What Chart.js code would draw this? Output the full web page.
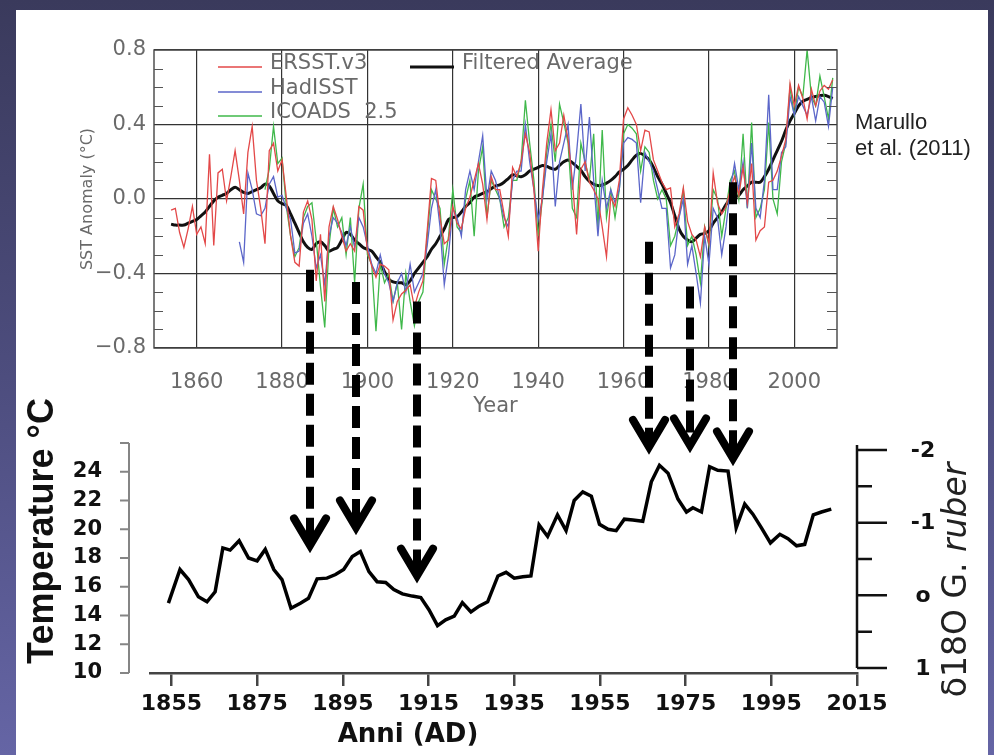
<!DOCTYPE html>
<html><head><meta charset="utf-8">
<script src="https://cdn.jsdelivr.net/npm/chart.js@4.4.1/dist/chart.umd.min.js"></script>
<style>
html,body{margin:0;padding:0;}
body{width:994px;height:755px;overflow:hidden;position:relative;background:linear-gradient(to bottom,#3a3a5c 0%,#4d4d7e 50%,#6565a5 100%);}
#panel{position:absolute;left:16px;top:10px;width:972px;height:745px;background:#fff;}
#top{position:absolute;left:0;top:0;}
#bot{position:absolute;left:0;top:380px;}
#ov{position:absolute;left:0;top:0;pointer-events:none;}
</style></head>
<body>
<div id="panel"></div>
<canvas id="top" width="994" height="420" style="width:994px;height:420px"></canvas>
<canvas id="bot" width="994" height="375" style="width:994px;height:375px"></canvas>
<canvas id="ov" width="994" height="755" style="width:994px;height:755px"></canvas>
<script>
// ---------- top panel: SST anomaly (°C), annual ----------
const ersstStart = 1854;
const ersst = [
 -0.06,-0.05,-0.18,-0.26,-0.16,-0.04,
 -0.19,-0.15,-0.24,0.24,-0.25,0.14,0.16,-0.01,0.12,0.26,
 0.10,-0.08,0.25,0.39,0.10,-0.05,-0.24,0.26,0.30,0.15,
 0.21,0.01,-0.20,-0.34,-0.36,-0.07,-0.01,-0.11,-0.44,-0.19,
 -0.55,-0.15,-0.04,-0.11,-0.20,-0.28,-0.24,-0.28,-0.04,-0.06,
 -0.28,-0.36,-0.42,-0.35,-0.36,-0.38,-0.65,-0.55,-0.51,-0.49,
 -0.46,-0.58,-0.50,-0.44,-0.17,0.11,0.10,-0.10,-0.24,-0.22,
 -0.04,-0.13,-0.16,-0.05,0.01,0.10,0.19,0.08,-0.11,0.12,
 0.05,0.05,-0.08,-0.20,0.17,0.12,0.20,0.35,0.25,0.05,
 -0.28,0.05,0.30,0.48,0.26,0.30,0.45,0.32,0.10,-0.19,
 0.16,0.20,0.09,0.05,0.00,-0.15,-0.31,0.01,-0.04,0.10,
 0.43,0.49,0.45,0.40,0.26,0.37,0.36,0.21,0.15,0.09,
 0.05,0.06,-0.15,-0.08,0.06,-0.12,-0.19,-0.22,-0.31,-0.15,
 -0.24,0.14,-0.02,-0.08,-0.04,0.05,0.12,0.02,0.17,-0.02,
 0.19,-0.22,-0.17,-0.15,0.09,0.10,0.15,0.23,0.32,0.62,
 0.50,0.61,0.54,0.43,0.59,0.50,0.58,0.61,0.59,0.64
];
const hadStart = 1870;
const hadisst = [
 -0.23,-0.34,0.14,0.05,-0.08,-0.09,-0.05,0.08,0.12,0.01,
 0.02,-0.05,-0.11,-0.29,-0.28,-0.13,-0.08,-0.20,-0.37,-0.30,
 -0.46,-0.20,-0.10,-0.13,-0.18,-0.25,-0.15,-0.26,-0.10,-0.15,
 -0.25,-0.35,-0.40,-0.30,-0.40,-0.45,-0.55,-0.45,-0.40,-0.50,
 -0.35,-0.50,-0.45,-0.40,-0.25,-0.05,0.05,-0.15,-0.46,-0.30,
 -0.05,-0.10,-0.20,0.05,0.15,0.05,0.20,0.34,0.00,0.15,
 0.10,0.00,-0.10,-0.15,0.10,0.15,0.15,0.40,0.20,0.05,
 -0.11,0.00,0.20,0.35,-0.04,0.20,0.30,0.40,0.05,0.25,
 0.51,0.15,0.44,0.10,-0.20,0.10,-0.05,0.05,-0.02,0.05,
 0.30,0.33,0.32,0.30,-0.02,0.25,0.20,0.15,0.05,-0.05,
 -0.05,-0.37,-0.30,-0.10,0.00,-0.35,-0.25,-0.40,-0.56,-0.20,
 -0.35,-0.05,-0.10,-0.30,-0.15,0.05,0.19,0.05,0.20,-0.05,
 0.30,-0.05,-0.10,0.10,0.56,0.05,0.05,0.25,0.28,0.55,
 0.45,0.55,0.50,0.45,0.55,0.42,0.55,0.52,0.39,0.60
];
const icoadsStart = 1876;
const icoads = [
 0.05,0.16,0.39,0.19,
 0.22,-0.04,-0.20,-0.31,-0.26,-0.10,-0.04,-0.02,-0.22,-0.47,
 -0.69,-0.25,-0.05,-0.15,-0.10,-0.30,-0.10,-0.45,-0.05,0.08,
 -0.30,-0.35,-0.71,-0.35,-0.45,-0.40,-0.55,-0.45,-0.70,-0.40,
 -0.55,-0.68,-0.55,-0.50,-0.20,0.05,0.00,-0.05,-0.35,-0.20,
 0.05,-0.15,-0.18,0.00,0.10,-0.20,0.15,0.28,-0.10,0.10,
 0.05,0.00,-0.15,-0.10,0.10,0.10,0.20,0.53,0.30,0.10,
 -0.20,0.00,0.25,0.40,0.20,0.51,0.41,0.30,-0.05,-0.10,
 0.30,0.20,0.10,0.35,-0.15,0.37,-0.10,0.05,-0.10,0.05,
 0.35,0.40,0.38,0.35,0.15,0.28,0.25,0.10,0.00,0.05,
 0.00,-0.25,-0.20,-0.10,0.05,-0.25,-0.20,-0.30,-0.45,-0.15,
 -0.25,0.05,0.00,-0.20,-0.05,0.10,0.15,0.00,0.35,-0.05,
 0.41,-0.10,-0.05,0.05,0.41,0.00,-0.08,0.20,0.30,0.60,
 0.45,0.60,0.55,0.80,0.55,0.50,0.66,0.55,0.43,0.65
];
const filtStart = 1854;
const filtered = [
 -0.135,-0.14,-0.14,-0.14,-0.13,-0.12,
 -0.11,-0.09,-0.07,-0.04,-0.01,0.01,0.02,0.03,0.05,0.063,
 0.05,0.035,0.03,0.04,0.05,0.06,0.08,0.07,0.03,-0.01,
 -0.025,-0.035,-0.08,-0.13,-0.18,-0.23,-0.26,-0.27,-0.24,-0.23,
 -0.25,-0.28,-0.27,-0.26,-0.22,-0.18,-0.19,-0.22,-0.24,-0.26,
 -0.27,-0.28,-0.31,-0.34,-0.39,-0.43,-0.445,-0.45,-0.45,-0.46,
 -0.44,-0.40,-0.37,-0.34,-0.31,-0.27,-0.24,-0.20,-0.16,-0.11,
 -0.10,-0.095,-0.07,-0.04,-0.02,0.01,0.02,0.03,0.04,0.055,
 0.07,0.076,0.09,0.11,0.13,0.125,0.12,0.13,0.15,0.16,
 0.17,0.18,0.175,0.165,0.16,0.18,0.20,0.21,0.195,0.175,
 0.155,0.12,0.095,0.08,0.072,0.075,0.085,0.10,0.12,0.145,
 0.16,0.18,0.21,0.235,0.245,0.23,0.21,0.17,0.12,0.08,
 0.03,-0.02,-0.09,-0.16,-0.20,-0.22,-0.23,-0.21,-0.19,-0.185,
 -0.17,-0.13,-0.10,-0.07,-0.03,0.00,0.01,0.02,0.05,0.07,
 0.09,0.09,0.09,0.12,0.16,0.21,0.26,0.31,0.37,0.42,
 0.46,0.50,0.525,0.535,0.545,0.55,0.555,0.557,0.55,0.54
];
const seriesNames = ['ERSST.v3','HadISST','ICOADS  2.5','Filtered Average'];
const topXTicks = [1860,1880,1900,1920,1940,1960,1980,2000];
const topYTicks = [-0.8,-0.4,0,0.4,0.8];
const topYLabels = ['\u22120.8','\u22120.4','0.0','0.4','0.8'];
const topMinorTicks = [-0.7,-0.6,-0.5,-0.3,-0.2,-0.1,0.1,0.2,0.3,0.5,0.6,0.7];

// ---------- bottom panel: reconstructed temperature ----------
const tempYears = [1854.3,1857,1859,1861.3,1863.3,1865.2,1867,1868.7,1870.8,1873,1875,1876.9,1878.9,1880.8,1882.9,1885.1,1887,1889,1891.3,1893.3,1895.2,1897.2,1899.1,1901.1,1903,1905,1906.9,1908.9,1911.2,1913.2,1915.1,1917.1,1919,1921,1922.9,1924.9,1926.8,1928.8,1931.2,1933.1,1935,1937,1938.9,1940.8,1942.8,1945.1,1947.1,1949,1951,1953,1954.9,1956.9,1958.8,1960.7,1962.7,1965,1967,1968.9,1970.9,1973.2,1975.2,1976.7,1978.7,1980.6,1982.5,1984.9,1986.8,1988.8,1990.7,1992.7,1994.8,1997,1998.9,2000.9,2002.8,2004.8,2006.7,2009];
const tempValues = [14.86,17.2,16.5,15.3,14.95,15.65,18.7,18.55,19.2,18.0,17.8,18.6,17.2,16.5,14.5,14.85,15.2,16.55,16.6,16.85,17.2,18.1,18.45,17.05,16.35,16.3,15.8,15.5,15.35,15.25,14.4,13.3,13.7,13.95,14.9,14.25,14.65,14.95,16.75,17.0,16.6,16.7,16.75,20.3,19.5,21.0,19.9,22.0,22.6,22.3,20.35,20.0,19.9,20.7,20.65,20.55,23.3,24.45,23.9,22.1,21.2,21.5,21.2,24.35,24.1,24.05,20.1,21.75,21.05,20.1,19.05,19.65,19.35,18.85,18.95,21.0,21.2,21.4];
const botXTicks = [1855,1875,1895,1915,1935,1955,1975,1995,2015];
const botYTicks = [10,12,14,16,18,20,22,24,26];
const d18oMajor = [-2,-1,0,1];
const d18oLabels = ['-2','-1','o','1'];
const d18oMinor = [-1.5,-0.5,0.5];

// ---------- arrows linking the two panels ----------
const arrowYears = [1886.5,1897.3,1911.5,1965.9,1975.6,1985.7];
const arrowFromSST = [-0.38,-0.445,-0.55,-0.23,-0.47,0.09];
const arrowToTemp = [18.25,19.5,16.15,25.1,25.2,24.3];

const pts = (start, arr) => arr.map((v,i)=>({x:start+i, y:v}));

Chart.defaults.font.family = '"DejaVu Sans", sans-serif';
const GRAY = '#6a6a6a';
const topFont = {family:'"DejaVu Sans"', size:21, weight:'normal'};

const topDeco = {
  id:'topDeco',
  afterDatasetsDraw(chart){
    const {ctx, chartArea:a, scales:{y}} = chart;
    ctx.save();
    ctx.strokeStyle = '#444'; ctx.lineWidth = 1.4;
    ctx.strokeRect(a.left, a.top, a.right-a.left, a.bottom-a.top);
    ctx.strokeStyle = '#555'; ctx.lineWidth = 1.2;
    topMinorTicks.forEach(v=>{
      const p = Math.round(y.getPixelForValue(v))+0.5;
      ctx.beginPath();
      ctx.moveTo(a.left,p); ctx.lineTo(a.left+9,p);
      ctx.moveTo(a.right,p); ctx.lineTo(a.right-10,p);
      ctx.stroke();
    });
    ctx.restore();
  },
  afterDraw(chart){
    const {ctx} = chart;
    const ds = chart.data.datasets;
    ctx.save();
    const rows = [[0,218,64],[1,218,89],[2,218,113],[3,410,64]];
    ctx.font = '21px "DejaVu Sans"';
    ctx.textBaseline = 'middle'; ctx.textAlign = 'left';
    rows.forEach(([i,x,yy])=>{
      ctx.strokeStyle = ds[i].borderColor;
      ctx.lineWidth = i===3 ? 3 : 1.5;
      ctx.beginPath(); ctx.moveTo(x,yy+3); ctx.lineTo(x+44,yy+3); ctx.stroke();
      ctx.fillStyle = GRAY;
      ctx.fillText(ds[i].label, x+52, yy);
    });
    ctx.fillStyle = '#222';
    ctx.font = '22px "Liberation Sans"';
    ctx.fillText('Marullo', 855, 123);
    ctx.fillText('et al. (2011)', 855, 149);
    ctx.restore();
  }
};

const topChart = new Chart(document.getElementById('top'), {
  type:'line',
  data:{datasets:[
    {label:seriesNames[0], data:pts(ersstStart, ersst), borderColor:'#e34848', borderWidth:1.3, pointRadius:0, tension:0},
    {label:seriesNames[1], data:pts(hadStart, hadisst), borderColor:'#5b66c9', borderWidth:1.3, pointRadius:0, tension:0},
    {label:seriesNames[2], data:pts(icoadsStart, icoads), borderColor:'#3fb84a', borderWidth:1.3, pointRadius:0, tension:0},
    {label:seriesNames[3], data:pts(filtStart, filtered), borderColor:'#111', borderWidth:3, pointRadius:0, tension:0.3}
  ]},
  options:{
    responsive:false, animation:false, devicePixelRatio:1,
    layout:{padding:{top:50,left:0,right:157,bottom:0}},
    plugins:{legend:{display:false}, tooltip:{enabled:false}},
    scales:{
      x:{type:'linear', min:1850, max:2010,
        afterBuildTicks:s=>{s.ticks = topXTicks.map(v=>({value:v}));},
        grid:{color:'#333', lineWidth:1.2, drawTicks:false},
        border:{display:false},
        ticks:{color:GRAY, font:topFont, padding:22, maxRotation:0, autoSkip:false, callback:v=>String(v)},
        title:{display:true, text:'Year', color:GRAY, font:topFont, padding:{top:0,bottom:1}},
        afterFit:s=>{s.height = 72;}
      },
      y:{type:'linear', min:-0.8, max:0.8,
        afterBuildTicks:s=>{s.ticks = topYTicks.map(v=>({value:v}));},
        grid:{color:'#333', lineWidth:1.2, drawTicks:false},
        border:{display:false},
        ticks:{color:GRAY, font:topFont, padding:8, callback:(v,i)=>topYLabels[i]},
        title:{display:true, text:'SST Anomaly (\u00B0C)', color:GRAY, font:{family:'"DejaVu Sans"', size:16}, padding:{top:78,bottom:0}},
        afterFit:s=>{s.width = 154;}
      }
    }
  },
  plugins:[topDeco]
});

const botDeco = {
  id:'botDeco',
  afterDraw(chart){
    const {ctx, chartArea:a, scales:{y, y2}} = chart;
    ctx.save();
    // left temperature axis (detached)
    const xl = a.left - 21;
    ctx.strokeStyle = '#858585'; ctx.lineWidth = 2;
    ctx.beginPath();
    ctx.moveTo(xl, y.getPixelForValue(26)); ctx.lineTo(xl, y.getPixelForValue(10));
    botYTicks.forEach(v=>{const p=y.getPixelForValue(v); ctx.moveTo(xl-9,p); ctx.lineTo(xl,p);});
    ctx.stroke();
    // right d18O axis
    const xr = a.right;
    ctx.strokeStyle = '#111'; ctx.lineWidth = 2.5;
    ctx.beginPath();
    ctx.moveTo(xr, y2.getPixelForValue(-2.07)); ctx.lineTo(xr, y2.getPixelForValue(1));
    d18oMajor.forEach(v=>{const p=y2.getPixelForValue(v); ctx.moveTo(xr,p); ctx.lineTo(xr+30,p);});
    d18oMinor.forEach(v=>{const p=y2.getPixelForValue(v); ctx.moveTo(xr,p); ctx.lineTo(xr+15,p);});
    ctx.stroke();
    ctx.fillStyle = '#111';
    ctx.font = 'bold 22px "DejaVu Sans"';
    ctx.textAlign = 'center'; ctx.textBaseline = 'middle';
    d18oMajor.forEach((v,i)=>ctx.fillText(d18oLabels[i], 923, y2.getPixelForValue(v)+1));
    // right title
    ctx.save();
    ctx.translate(957, 200); ctx.rotate(-Math.PI/2);
    const f1 = '33px "DejaVu Sans"', f2 = 'oblique 33px "DejaVu Sans"';
    ctx.font = f1; const w1 = ctx.measureText('\u03B418O G. ').width;
    ctx.font = f2; const w2 = ctx.measureText('ruber').width;
    const sx = -(w1+w2)/2;
    ctx.textAlign = 'left'; ctx.fillStyle = '#222';
    ctx.font = f1; ctx.fillText('\u03B418O G. ', sx, 0);
    ctx.font = f2; ctx.fillText('ruber', sx+w1, 0);
    ctx.restore();
    // left title
    ctx.save();
    ctx.translate(43, 151); ctx.rotate(-Math.PI/2);
    ctx.font = 'bold 36px "Liberation Sans"'; ctx.fillStyle = '#111';
    ctx.textAlign = 'center'; ctx.textBaseline = 'middle';
    ctx.fillText('Temperature \u00B0C', 0, 0);
    ctx.restore();
    // bottom title
    ctx.font = 'bold 26px "DejaVu Sans"'; ctx.fillStyle = '#111';
    ctx.textAlign = 'center'; ctx.textBaseline = 'middle';
    ctx.fillText('Anni (AD)', 408, 355);
    ctx.restore();
  }
};

const botChart = new Chart(document.getElementById('bot'), {
  type:'line',
  data:{datasets:[{label:'Temperature', data:tempYears.map((x,i)=>({x, y:tempValues[i]})), borderColor:'#000', borderWidth:3.5, pointRadius:0, tension:0, yAxisID:'y'}]},
  options:{
    responsive:false, animation:false, devicePixelRatio:1,
    layout:{padding:{top:63,left:0,right:137,bottom:0}},
    plugins:{legend:{display:false}, tooltip:{enabled:false}},
    scales:{
      x:{type:'linear', min:1850, max:2015,
        afterBuildTicks:s=>{s.ticks = botXTicks.map(v=>({value:v}));},
        grid:{drawOnChartArea:false, drawTicks:true, tickLength:13, color:'#444', lineWidth:2.5},
        border:{display:true, color:'#444', width:2.5},
        ticks:{color:'#111', font:{family:'"DejaVu Sans"', size:22, weight:'bold'}, padding:5, maxRotation:0, autoSkip:false, callback:v=>String(v)},
        afterFit:s=>{s.height = 82;}
      },
      y:{type:'linear', min:10, max:26, position:'left',
        afterBuildTicks:s=>{s.ticks = botYTicks.map(v=>({value:v}));},
        grid:{display:false}, border:{display:false},
        ticks:{color:'#111', font:{family:'"DejaVu Sans"', size:21, weight:'bold'}, padding:40, callback:v=>v===26?'':String(v)},
        afterFit:s=>{s.width = 150;}
      },
      y2:{type:'linear', display:false, position:'right', reverse:true, min:-2.096, max:1.069}
    }
  },
  plugins:[botDeco]
});

function drawArrows(){
  const ctx = document.getElementById('ov').getContext('2d');
  const xs = topChart.scales.x, ys = topChart.scales.y, yb = botChart.scales.y;
  const offB = 380;
  ctx.strokeStyle = '#000';
  arrowYears.forEach((yr,i)=>{
    const x = Math.round(xs.getPixelForValue(yr));
    const y1 = ys.getPixelForValue(arrowFromSST[i]);
    const y2 = offB + yb.getPixelForValue(arrowToTemp[i]);
    ctx.lineWidth = 8; ctx.lineCap = 'butt'; ctx.setLineDash([22,9]);
    ctx.beginPath(); ctx.moveTo(x,y1); ctx.lineTo(x,y2-12); ctx.stroke();
    ctx.setLineDash([]); ctx.lineJoin = 'miter'; ctx.lineCap = 'round';
    ctx.beginPath(); ctx.moveTo(x-16,y2-36); ctx.lineTo(x,y2-9); ctx.lineTo(x+16,y2-36); ctx.stroke();
  });
}
drawArrows();
</script>
</body></html>
